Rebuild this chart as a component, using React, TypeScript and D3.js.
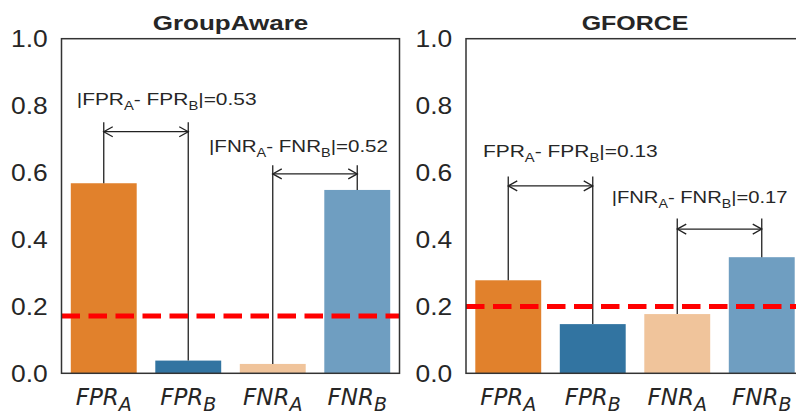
import React, { useLayoutEffect, useRef, useState } from "react";
import * as d3 from "d3";

// ---------- data ----------
const categories = ["FPR_A", "FPR_B", "FNR_A", "FNR_B"];
const panelTitles = ["GroupAware", "GFORCE"];
const groupAwareValues = [0.568, 0.038, 0.028, 0.548];
const gforceValues = [0.278, 0.147, 0.177, 0.347];
const thresholdValues = [0.171, 0.2];
const yTicks = [0.0, 0.2, 0.4, 0.6, 0.8, 1.0];
const barColors = ["#E1812C", "#3274A1", "#F0C49B", "#6F9EC1"];

// annotation labels: [metric, prefix, diff]
const groupAwareAnnLabels = [
  { metric: "FPR", prefix: "|", diff: "0.53" },
  { metric: "FNR", prefix: "|", diff: "0.52" },
];
const gforceAnnLabels = [
  { metric: "FPR", prefix: "", diff: "0.13" },
  { metric: "FNR", prefix: "|", diff: "0.17" },
];
// annotation levels (data units): bracket top, arrow level, text baseline
const groupAwareAnnLevels = [
  { pair: [0, 1], top: 0.75, arrow: 0.722, textY: 0.802, textX: -0.32, width: 180 },
  { pair: [2, 3], top: 0.622, arrow: 0.596, textY: 0.662, textX: 1.246, width: 179 },
];
const gforceAnnLevels = [
  { pair: [0, 1], top: 0.588, arrow: 0.56, textY: 0.647, textX: -0.3, width: 175 },
  { pair: [2, 3], top: 0.463, arrow: 0.431, textY: 0.509, textX: 1.224, width: 176 },
];

const panelsData = [
  { title: panelTitles[0], values: groupAwareValues, threshold: thresholdValues[0], labels: groupAwareAnnLabels, levels: groupAwareAnnLevels, left: 61.5, titleW: 155.6 },
  { title: panelTitles[1], values: gforceValues, threshold: thresholdValues[1], labels: gforceAnnLabels, levels: gforceAnnLevels, left: 466, titleW: 106.7 },
];

const W = 796;
const H = 416;
const PW = 338;
const TOP = 38.7;
const BOTTOM = 373.3;
const TEXT = "#262626";
const SANS = "'Liberation Sans', Arial, sans-serif";

function FitText({ x, y, width, anchor = "start", children, ...rest }: any) {
  const ref = useRef<SVGTextElement>(null);
  const [s, setS] = useState(1);
  useLayoutEffect(() => {
    if (ref.current) {
      const w = ref.current.getBBox().width;
      if (w > 0) setS(width / w);
    }
  }, [width]);
  return (
    <g transform={`translate(${x},${y}) scale(${s},1)`}>
      <text ref={ref} x={0} y={0} textAnchor={anchor} {...rest}>
        {children}
      </text>
    </g>
  );
}

function Panel({ p }: any) {
  const x = d3
    .scaleBand<string>()
    .domain(categories)
    .range([p.left, p.left + PW])
    .paddingInner(0.22)
    .paddingOuter(0.11);
  const y = d3.scaleLinear().domain([0, 1]).range([BOTTOM, TOP]);
  const step = x.step();
  const cx = (i: number) => (x(categories[i]) as number) + x.bandwidth() / 2;

  return (
    <g>
      {/* bars */}
      {p.values.map((v: number, i: number) => (
        <rect
          key={i}
          x={x(categories[i])}
          y={y(v)}
          width={x.bandwidth()}
          height={y(0) - y(v)}
          fill={barColors[i]}
        />
      ))}
      {/* annotations */}
      {p.levels.map((a: any, k: number) => {
        const [i, j] = a.pair;
        const x1 = cx(i);
        const x2 = cx(j);
        const ya = y(a.arrow);
        const hl = 9;
        const hw = 5;
        const lab = p.labels[k];
        return (
          <g key={k}>
            <line x1={x1} x2={x1} y1={y(p.values[i])} y2={y(a.top)} stroke="#222" strokeWidth={1.3} />
            <line x1={x2} x2={x2} y1={y(p.values[j])} y2={y(a.top)} stroke="#222" strokeWidth={1.3} />
            <line x1={x1} x2={x2} y1={ya} y2={ya} stroke="#222" strokeWidth={1.3} />
            <path
              d={`M${x1 + hl},${ya - hw}L${x1},${ya}L${x1 + hl},${ya + hw}M${x2 - hl},${ya - hw}L${x2},${ya}L${x2 - hl},${ya + hw}`}
              fill="none"
              stroke="#222"
              strokeWidth={1.3}
            />
            <FitText
              x={cx(0) + a.textX * step}
              y={y(a.textY)}
              width={a.width}
              fontFamily={SANS}
              fontSize={17}
              fill={TEXT}
            >
              {lab.prefix + lab.metric}
              <tspan fontSize={12} dy={5}>A</tspan>
              <tspan dy={-5}>{"- " + lab.metric}</tspan>
              <tspan fontSize={12} dy={5}>B</tspan>
              <tspan dy={-5}>{"|=" + lab.diff}</tspan>
            </FitText>
          </g>
        );
      })}
      {/* threshold */}
      <line
        x1={p.left}
        x2={p.left + PW}
        y1={y(p.threshold)}
        y2={y(p.threshold)}
        stroke="#ff0000"
        strokeWidth={5}
        strokeDasharray="18.5 8.5"
      />
      {/* frame */}
      <rect x={p.left} y={TOP} width={PW} height={BOTTOM - TOP} fill="none" stroke="#333" strokeWidth={1.5} />
      {/* y ticks */}
      {yTicks.map((t) => (
        <text
          key={t}
          x={p.left - 50.5}
          y={y(t) + 8.3}
          fontFamily={SANS}
          fontSize={23}
          fill={TEXT}
          textLength={36.7}
          lengthAdjust="spacingAndGlyphs"
        >
          {d3.format(".1f")(t)}
        </text>
      ))}
      {/* x labels */}
      {categories.map((c, i) => {
        const [m, s] = c.split("_");
        return (
          <text
            key={c}
            x={cx(i)}
            y={405}
            textAnchor="middle"
            fontFamily="'DejaVu Sans', sans-serif"
            fontStyle="italic"
            fontSize={23}
            fill={TEXT}
          >
            {m}
            <tspan fontSize={19} dy={5.5}>{s}</tspan>
          </text>
        );
      })}
      {/* title */}
      <text
        x={p.left + PW / 2 - p.titleW / 2}
        y={29.5}
        fontFamily={SANS}
        fontWeight="bold"
        fontSize={21}
        fill={TEXT}
        textLength={p.titleW}
        lengthAdjust="spacingAndGlyphs"
      >
        {p.title}
      </text>
    </g>
  );
}

export default function App() {
  return (
    <svg
      width={W}
      height={H}
      viewBox={`0 0 ${W} ${H}`}
      style={{ position: "absolute", left: 0, top: 0, background: "#fff" }}
    >
      <rect x={0} y={0} width={W} height={H} fill="#fff" />
      {panelsData.map((p, i) => (
        <Panel key={i} p={p} />
      ))}
    </svg>
  );
}
